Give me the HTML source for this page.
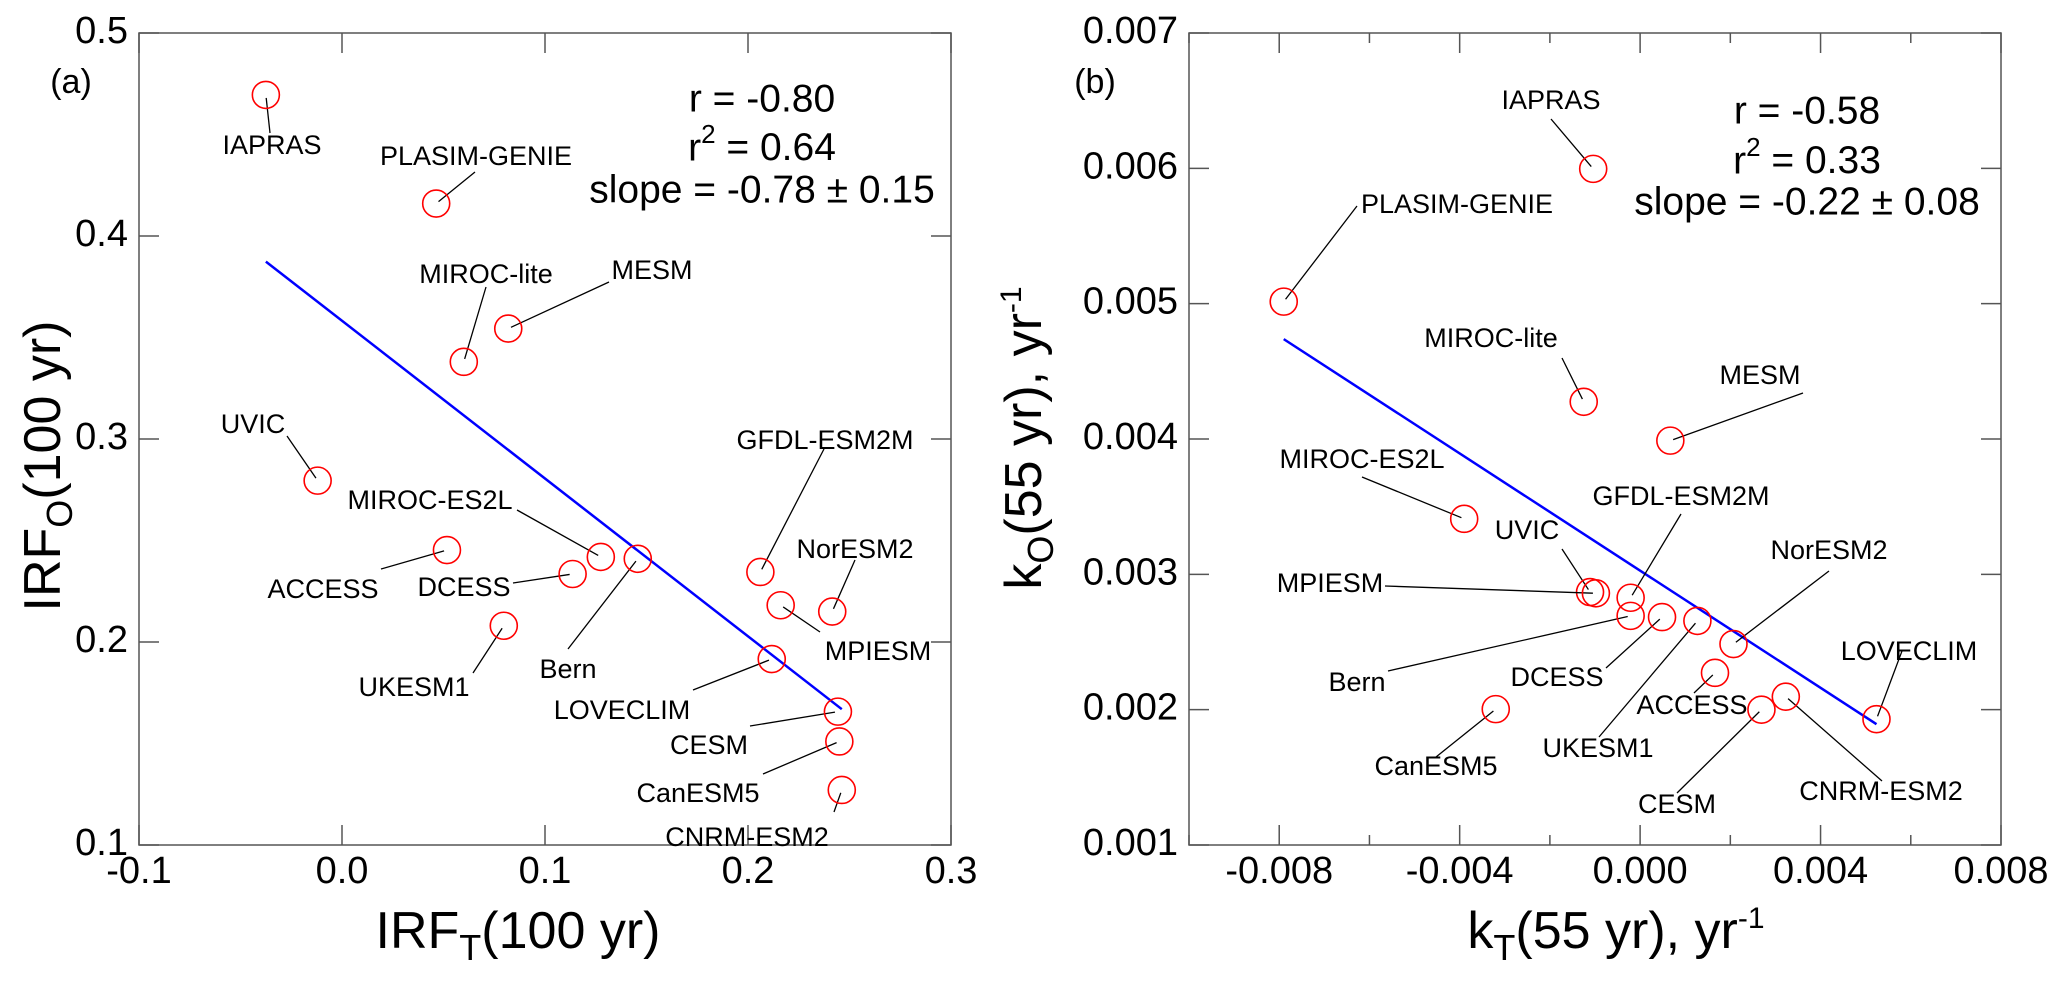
<!DOCTYPE html>
<html><head><meta charset="utf-8">
<style>
html,body{margin:0;padding:0;background:#fff;}
svg{display:block;font-family:"Liberation Sans",Arial,sans-serif;}
</style></head>
<body>
<svg id="fig" width="2067" height="981" viewBox="0 0 2067 981"></svg>
<script>
// ---- Panel (a) data ----
const modelsA = ["IAPRAS","PLASIM-GENIE","MIROC-lite","MESM","UVIC","ACCESS","DCESS","MIROC-ES2L","Bern","UKESM1","GFDL-ESM2M","MPIESM","NorESM2","LOVECLIM","CESM","CanESM5","CNRM-ESM2"];
const irfT = [-0.0375,0.0464,0.060,0.0819,-0.012,0.0517,0.1136,0.1275,0.1457,0.0797,0.2061,0.2161,0.2415,0.2117,0.2443,0.245,0.2462];
const irfO = [0.4695,0.416,0.338,0.3544,0.2795,0.2453,0.2335,0.2419,0.241,0.208,0.2345,0.2181,0.215,0.1916,0.1657,0.151,0.1271];
const fitAX = [-0.0375,0.2462];
const fitAY = [0.3874,0.1669];
const statsA = ["r = -0.80","= 0.64","slope = -0.78 \u00b1 0.15"];
const xTicksA = [-0.1,0.0,0.1,0.2,0.3];
const xTickLabA = ["-0.1","0.0","0.1","0.2","0.3"];
const yTicksA = [0.1,0.2,0.3,0.4,0.5];
const yTickLabA = ["0.1","0.2","0.3","0.4","0.5"];
// ---- Panel (b) data ----
const modelsB = ["IAPRAS","PLASIM-GENIE","MIROC-lite","MESM","MIROC-ES2L","UVIC","MPIESM","GFDL-ESM2M","Bern","DCESS","UKESM1","NorESM2","ACCESS","CESM","CNRM-ESM2","LOVECLIM","CanESM5"];
const kT = [-0.00104,-0.0079,-0.00125,0.00067,-0.0039,-0.00111,-0.00098,-0.00021,-0.00021,0.000486,0.00127,0.00207,0.00166,0.00269,0.00323,0.00524,-0.0032];
const kO = [0.005996,0.005015,0.004275,0.003988,0.00341,0.002869,0.00286,0.002827,0.002693,0.002684,0.002656,0.002485,0.002272,0.0020,0.002096,0.00193,0.002004];
const fitBX = [-0.0079,0.00524];
const fitBY = [0.004738,0.001893];
const statsB = ["r = -0.58","= 0.33","slope = -0.22 \u00b1 0.08"];
const xTicksB = [-0.010,-0.008,-0.006,-0.004,-0.002,0.000,0.002,0.004,0.006,0.008];
const xTickLabB = ["","-0.008","","-0.004","","0.000","","0.004","","0.008"];
const yTicksB = [0.001,0.002,0.003,0.004,0.005,0.006,0.007];
const yTickLabB = ["0.001","0.002","0.003","0.004","0.005","0.006","0.007"];

// label layout (pixel positions of label centers, leader start), same order as models
const labLayA = [[272,147,270,133],[476,158,475,172],[486,276,486,287],[652,272,609,282],[253,426,287,436],[323,591,381,569],[464,589,513,583],[430,502,517,510],[568,671,568,649],[414,689,473,673],[825,442,824,449],[878,653,820,632],[855,551,855,560],[622,712,693,690],[709,747,750,726],[698,795,763,774],[747,839,834,812]];
const labLayB = [[1551,102,1551,119],[1457,206,1357,206],[1491,340,1562,358],[1760,377,1803,393],[1362,461,1362,477],[1527,532,1562,549],[1330,585,1385,586],[1681,498,1681,514],[1357,684,1388,671],[1557,679,1606,668],[1598,750,1599,737],[1829,552,1829,571],[1692,707,1694,693],[1677,806,1677,793],[1881,793,1882,781],[1909,653,1902,651],[1436,768,1436,757]];

const NS="http://www.w3.org/2000/svg";
const svg=document.getElementById('fig');
function mk(tag,attrs,parent){const e=document.createElementNS(NS,tag);for(const k in attrs)e.setAttribute(k,attrs[k]);(parent||svg).appendChild(e);return e;}

function panel(o){
  const g=mk('g',{});
  
  
  const sx=v=>o.L+(v-o.x0)/(o.x1-o.x0)*(o.R-o.L);
  const sy=v=>o.B-(v-o.y0)/(o.y1-o.y0)*(o.B-o.T);
  const frame=mk('rect',{x:o.L,y:o.T,width:o.R-o.L,height:o.B-o.T,fill:'none',stroke:'#555','stroke-width':1.5},g);
  
  
  o.xt.forEach((v,i)=>{
    const x=sx(v);const len=o.xl[i]?20:10;
    mk('line',{x1:x,y1:o.B,x2:x,y2:o.B-len,stroke:'#555','stroke-width':1.5},g);
    mk('line',{x1:x,y1:o.T,x2:x,y2:o.T+len,stroke:'#555','stroke-width':1.5},g);
    if(o.xl[i]){const t=mk('text',{x:x,y:873,'font-size':38,'text-anchor':'middle','dominant-baseline':'middle'},g);t.textContent=o.xl[i];
      
      }
  });
  o.yt.forEach((v,i)=>{
    const y=sy(v);
    mk('line',{x1:o.L,y1:y,x2:o.L+20,y2:y,stroke:'#555','stroke-width':1.5},g);
    mk('line',{x1:o.R,y1:y,x2:o.R-20,y2:y,stroke:'#555','stroke-width':1.5},g);
    const t=mk('text',{x:o.L-11,y:y,'font-size':38,'text-anchor':'end','dominant-baseline':'middle'},g);t.textContent=o.yl[i];
    
    
  });
  const fl=mk('line',{x1:sx(o.fx[0]),y1:sy(o.fy[0]),x2:sx(o.fx[1]),y2:sy(o.fy[1]),stroke:'#0000ff','stroke-width':2.5},g);
  
  
  o.names.forEach((n,i)=>{
    const px=sx(o.xs[i]),py=sy(o.ys[i]);
    const L=o.lay[i];
    const dx=px-L[2],dy=py-L[3],d=Math.hypot(dx,dy)||1;
    const ln=mk('line',{x1:L[2],y1:L[3],x2:px-dx/d*3,y2:py-dy/d*3,stroke:'#000','stroke-width':1.3},g);
    
    
    const c=mk('circle',{cx:px,cy:py,r:13.5,fill:'none',stroke:'#ff0000','stroke-width':1.6},g);
    
    
    const t=mk('text',{x:L[0],y:L[1],'font-size':27,'text-anchor':'middle','dominant-baseline':'middle'},g);
    t.textContent=n;
    
    
  });
  const s1=mk('text',{x:o.sx,y:o.sy[0],'font-size':39,'text-anchor':'middle','dominant-baseline':'middle'},g);s1.textContent=o.st[0];
  
  
  const s2=mk('text',{x:o.sx,y:o.sy[1],'font-size':39,'text-anchor':'middle','dominant-baseline':'middle'},g);
  s2.innerHTML='r<tspan font-size="26" dy="-14">2</tspan><tspan dy="14"> '+o.st[1]+'</tspan>';
  
  
  const s3=mk('text',{x:o.sx,y:o.sy[2],'font-size':39,'text-anchor':'middle','dominant-baseline':'middle'},g);s3.textContent=o.st[2];
  
  
  const pl=mk('text',{x:o.plx,y:84,'font-size':34,'text-anchor':'middle','dominant-baseline':'middle'},g);pl.textContent=o.pl;
  
  
  const xt=mk('text',{x:o.xtx,y:948,'font-size':52,'text-anchor':'middle'},g);xt.innerHTML=o.xtitle;
  
  
  const yt=mk('text',{x:0,y:0,'font-size':52,'text-anchor':'middle',transform:'translate('+o.ytx+','+o.yty+') rotate(-90)'},g);yt.innerHTML=o.ytitle;
  
  
}
panel({name:'panel-a',L:139,R:951,T:33,B:845,x0:-0.1,x1:0.3,y0:0.1,y1:0.5,xt:xTicksA,xl:xTickLabA,yt:yTicksA,yl:yTickLabA,
  fx:fitAX,fy:fitAY,names:modelsA,xs:irfT,ys:irfO,lay:labLayA,st:statsA,sx:762,sy:[101,150,192],pl:'(a)',plx:71,
  xtx:518,xtitle:'IRF<tspan font-size="36" dy="12">T</tspan><tspan dy="-12">(100 yr)</tspan>',
  ytx:60,yty:466,ytitle:'IRF<tspan font-size="36" dy="12">O</tspan><tspan dy="-12">(100 yr)</tspan>'});
panel({name:'panel-b',L:1189,R:2001,T:33,B:845,x0:-0.010,x1:0.008,y0:0.001,y1:0.007,xt:xTicksB,xl:xTickLabB,yt:yTicksB,yl:yTickLabB,
  fx:fitBX,fy:fitBY,names:modelsB,xs:kT,ys:kO,lay:labLayB,st:statsB,sx:1807,sy:[113,163,204],pl:'(b)',plx:1095,
  xtx:1616,xtitle:'k<tspan font-size="36" dy="12">T</tspan><tspan dy="-12">(55 yr), yr</tspan><tspan font-size="30" dy="-20">-1</tspan>',
  ytx:1041,yty:438,ytitle:'k<tspan font-size="36" dy="12">O</tspan><tspan dy="-12">(55 yr), yr</tspan><tspan font-size="30" dy="-20">-1</tspan>'});
</script>
</body></html>
